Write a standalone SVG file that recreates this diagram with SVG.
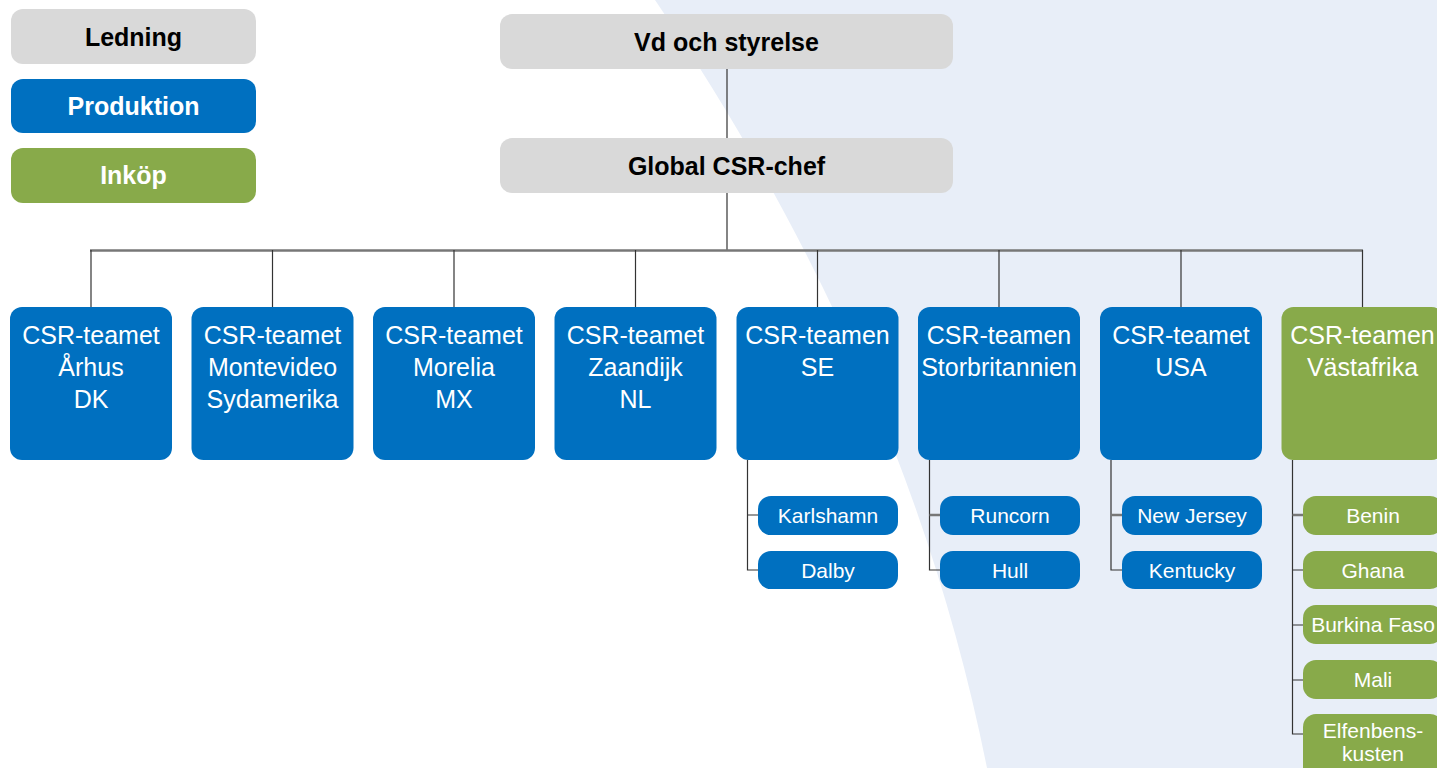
<svg xmlns="http://www.w3.org/2000/svg" width="1437" height="768" viewBox="0 0 1437 768">
<style>
.gray{fill:#D9D9D9}
.blue{fill:#0070C0}
.green{fill:#88AA4A}
.tb{font-family:"Liberation Sans",Arial,sans-serif;font-weight:bold;font-size:25px;text-anchor:middle}
.tw{font-family:"Liberation Sans",Arial,sans-serif;font-size:25px;fill:#FFFFFF;text-anchor:middle}
.ts{font-family:"Liberation Sans",Arial,sans-serif;font-size:21px;fill:#FFFFFF;text-anchor:middle}
.ln{stroke:#333333;stroke-width:1.2;fill:none}
.lg{stroke:#777777;stroke-width:2.5;fill:none}
</style>
<rect width="1437" height="768" fill="#FFFFFF"/>
<path d="M655,0 C829,256 936,512 987,768 L1437,768 L1437,0 Z" fill="#E8EEF8"/>

<g id="connectors">
<line class="ln" x1="727" y1="69" x2="727" y2="138"/>
<line class="ln" x1="727" y1="193" x2="727" y2="250"/>
<line class="lg" x1="90" y1="250.5" x2="1363" y2="250.5"/>
<line class="ln" x1="91" y1="250" x2="91" y2="307"/>
<line class="ln" x1="272.5" y1="250" x2="272.5" y2="307"/>
<line class="ln" x1="454" y1="250" x2="454" y2="307"/>
<line class="ln" x1="635.5" y1="250" x2="635.5" y2="307"/>
<line class="ln" x1="817.5" y1="250" x2="817.5" y2="307"/>
<line class="ln" x1="999" y1="250" x2="999" y2="307"/>
<line class="ln" x1="1181" y1="250" x2="1181" y2="307"/>
<line class="ln" x1="1362.5" y1="250" x2="1362.5" y2="307"/>
<path class="ln" d="M747.5,460 V570 H758 M747.5,515 H758"/>
<path class="ln" d="M929.5,460 V570 H940"/>
<line class="lg" x1="929.5" y1="515" x2="940" y2="515"/>
<path class="ln" d="M1111,460 V570 H1122"/>
<line class="lg" x1="1111" y1="515" x2="1122" y2="515"/>
<path class="ln" d="M1292.5,460 V734 H1303 M1292.5,570 H1303 M1292.5,625 H1303 M1292.5,680 H1303"/>
<line class="lg" x1="1292.5" y1="515" x2="1303" y2="515"/>
</g>

<g id="legend-ledning"><rect class="gray" x="11" y="9" width="245" height="55" rx="12"/><text class="tb" x="133.5" y="46" fill="#000">Ledning</text></g>
<g id="legend-produktion"><rect class="blue" x="11" y="79" width="245" height="54" rx="12"/><text class="tb" x="133.5" y="115" fill="#FFF">Produktion</text></g>
<g id="legend-inkop"><rect class="green" x="11" y="148" width="245" height="55" rx="12"/><text class="tb" x="133.5" y="184" fill="#FFF">Inköp</text></g>

<g id="vd"><rect class="gray" x="500" y="14" width="453" height="55" rx="12"/><text class="tb" x="726.5" y="51" fill="#000">Vd och styrelse</text></g>
<g id="global"><rect class="gray" x="500" y="138" width="453" height="55" rx="12"/><text class="tb" x="726.5" y="175" fill="#000">Global CSR-chef</text></g>

<g id="t1"><rect class="blue" x="10" y="307" width="162" height="153" rx="12"/><text class="tw" x="91" y="344">CSR-teamet</text><text class="tw" x="91" y="376">Århus</text><text class="tw" x="91" y="408">DK</text></g>
<g id="t2"><rect class="blue" x="191.5" y="307" width="162" height="153" rx="12"/><text class="tw" x="272.5" y="344">CSR-teamet</text><text class="tw" x="272.5" y="376">Montevideo</text><text class="tw" x="272.5" y="408">Sydamerika</text></g>
<g id="t3"><rect class="blue" x="373" y="307" width="162" height="153" rx="12"/><text class="tw" x="454" y="344">CSR-teamet</text><text class="tw" x="454" y="376">Morelia</text><text class="tw" x="454" y="408">MX</text></g>
<g id="t4"><rect class="blue" x="554.5" y="307" width="162" height="153" rx="12"/><text class="tw" x="635.5" y="344">CSR-teamet</text><text class="tw" x="635.5" y="376">Zaandijk</text><text class="tw" x="635.5" y="408">NL</text></g>
<g id="t5"><rect class="blue" x="736.5" y="307" width="162" height="153" rx="12"/><text class="tw" x="817.5" y="344">CSR-teamen</text><text class="tw" x="817.5" y="376">SE</text></g>
<g id="t6"><rect class="blue" x="918" y="307" width="162" height="153" rx="12"/><text class="tw" x="999" y="344">CSR-teamen</text><text class="tw" x="999" y="376">Storbritannien</text></g>
<g id="t7"><rect class="blue" x="1100" y="307" width="162" height="153" rx="12"/><text class="tw" x="1181" y="344">CSR-teamet</text><text class="tw" x="1181" y="376">USA</text></g>
<g id="t8"><rect class="green" x="1281.5" y="307" width="162" height="153" rx="12"/><text class="tw" x="1362.5" y="344">CSR-teamen</text><text class="tw" x="1362.5" y="376">Västafrika</text></g>

<g id="s-karlshamn"><rect class="blue" x="758" y="496" width="140" height="39" rx="13"/><text class="ts" x="828" y="523">Karlshamn</text></g>
<g id="s-dalby"><rect class="blue" x="758" y="551" width="140" height="38" rx="13"/><text class="ts" x="828" y="578">Dalby</text></g>
<g id="s-runcorn"><rect class="blue" x="940" y="496" width="140" height="39" rx="13"/><text class="ts" x="1010" y="523">Runcorn</text></g>
<g id="s-hull"><rect class="blue" x="940" y="551" width="140" height="38" rx="13"/><text class="ts" x="1010" y="578">Hull</text></g>
<g id="s-newjersey"><rect class="blue" x="1122" y="496" width="140" height="39" rx="13"/><text class="ts" x="1192" y="523">New Jersey</text></g>
<g id="s-kentucky"><rect class="blue" x="1122" y="551" width="140" height="38" rx="13"/><text class="ts" x="1192" y="578">Kentucky</text></g>
<g id="s-benin"><rect class="green" x="1303" y="496" width="140" height="39" rx="13"/><text class="ts" x="1373" y="523">Benin</text></g>
<g id="s-ghana"><rect class="green" x="1303" y="551" width="140" height="38" rx="13"/><text class="ts" x="1373" y="578">Ghana</text></g>
<g id="s-burkina"><rect class="green" x="1303" y="605" width="140" height="39" rx="13"/><text class="ts" x="1373" y="632">Burkina Faso</text></g>
<g id="s-mali"><rect class="green" x="1303" y="660" width="140" height="39" rx="13"/><text class="ts" x="1373" y="687">Mali</text></g>
<g id="s-elfenbens"><rect class="green" x="1303" y="714" width="140" height="70" rx="13"/><text class="ts" x="1373" y="738">Elfenbens-</text><text class="ts" x="1373" y="761">kusten</text></g>
</svg>
